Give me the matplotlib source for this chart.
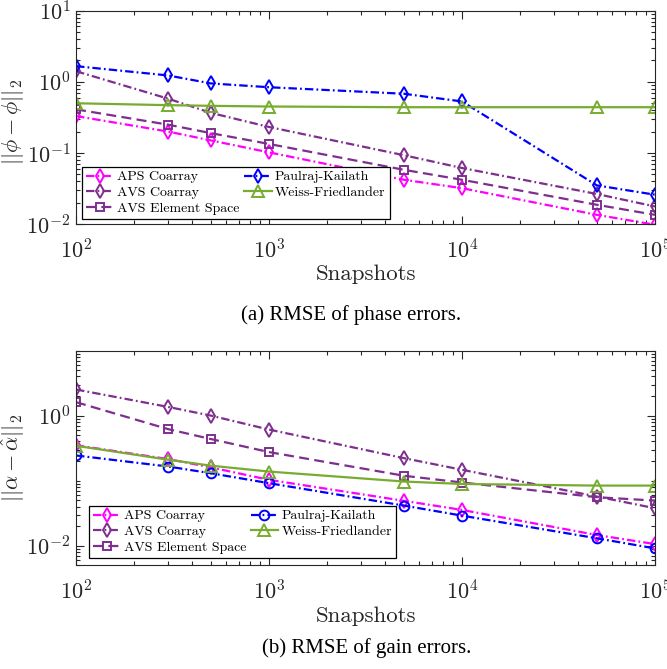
import matplotlib
matplotlib.use('Agg')
import matplotlib.pyplot as plt
from matplotlib.ticker import LogLocator, NullFormatter

plt.rcParams['font.family'] = 'cmr10'
plt.rcParams['mathtext.fontset'] = 'cm'
plt.rcParams['axes.formatter.use_mathtext'] = True

# snapshot counts shared by both panels
snapshots = [100, 300, 500, 1000, 5000, 10000, 50000, 100000]

# (a) phase error RMSE
phase_aps = [0.33, 0.20, 0.15, 0.102, 0.042, 0.032, 0.0135, 0.0098]
phase_avs = [1.41, 0.58, 0.366, 0.232, 0.093, 0.0615, 0.0265, 0.0177]
phase_avs_es = [0.41, 0.25, 0.19, 0.134, 0.058, 0.042, 0.0187, 0.0135]
phase_pk = [1.66, 1.23, 0.95, 0.84, 0.68, 0.53, 0.035, 0.0259]
phase_wf = [0.50, 0.47, 0.46, 0.45, 0.44, 0.44, 0.44, 0.44]

# (b) gain error RMSE
gain_aps = [0.35, 0.215, 0.16, 0.103, 0.049, 0.0355, 0.0146, 0.0106]
gain_avs = [2.52, 1.36, 1.0, 0.61, 0.222, 0.147, 0.057, 0.0377]
gain_avs_es = [1.61, 0.62, 0.436, 0.275, 0.119, 0.0937, 0.0557, 0.0494]
gain_pk = [0.244, 0.165, 0.13, 0.0915, 0.0414, 0.029, 0.013, 0.0091]
gain_wf = [0.344, 0.21, 0.17, 0.138, 0.097, 0.089, 0.084, 0.084]

labels = ['APS Coarray', 'AVS Coarray', 'AVS Element Space',
          'Paulraj-Kailath', 'Weiss-Friedlander']

magenta = '#FF00FF'
purple = '#7E2F8E'
blue = '#0000FF'
green = '#77AC30'
axcol = '#262626'

dashdot = (3.8, 1.4, 0.8, 1.4)
dashed = (4.5, 2.4)


def draw(ax, aps, avs, avs_es, pk, wf, pk_marker):
    kw = dict(lw=1.6, mfc='none', mew=1.4)
    ax.plot(snapshots, aps, color=magenta, dashes=dashdot, marker='d', ms=7.5, label=labels[0], **kw)
    ax.plot(snapshots, avs, color=purple, dashes=dashdot, marker='d', ms=7.5, label=labels[1], **kw)
    ax.plot(snapshots, avs_es, color=purple, dashes=dashed, marker='s', ms=5.5, label=labels[2], **kw)
    ax.plot(snapshots, pk, color=blue, dashes=dashdot, marker=pk_marker,
            ms=7.5 if pk_marker == 'd' else 7, label=labels[3], **kw)
    ax.plot(snapshots, wf, '-', color=green, marker='^', ms=8, label=labels[4], **kw)
    ax.set_xscale('log')
    ax.set_yscale('log')
    ax.set_xlim(1e2, 1e5)
    ax.tick_params(which='both', direction='in', top=True, right=True,
                   labelsize=16, colors=axcol, width=0.8)
    ax.tick_params(which='major', length=6)
    ax.tick_params(which='minor', length=3)
    ax.tick_params(axis='x', which='major', pad=10)
    ax.tick_params(axis='y', which='major', pad=4)
    ax.xaxis.set_minor_locator(LogLocator(base=10, subs=range(2, 10), numticks=20))
    ax.xaxis.set_minor_formatter(NullFormatter())
    ax.yaxis.set_minor_locator(LogLocator(base=10, subs=range(2, 10), numticks=20))
    ax.yaxis.set_minor_formatter(NullFormatter())
    for s in ax.spines.values():
        s.set_color(axcol)
        s.set_linewidth(0.8)
    ax.set_xlabel('Snapshots', fontsize=16.5, color=axcol, labelpad=2)


def legend(ax, anchor):
    leg = ax.legend(ncol=2, loc='lower left', bbox_to_anchor=anchor,
                    prop={'size': 10}, frameon=True, fancybox=False,
                    edgecolor='black', framealpha=1, borderpad=0.3, labelspacing=0.22,
                    handlelength=2.0, handletextpad=0.25, columnspacing=0.3,
                    borderaxespad=0)
    leg.get_frame().set_linewidth(0.9)


fig = plt.figure(figsize=(6.67, 6.69), dpi=100)

ax1 = fig.add_axes([0.114, 0.665, 0.868, 0.319])
draw(ax1, phase_aps, phase_avs, phase_avs_es, phase_pk, phase_wf, 'd')
ax1.set_ylim(1e-2, 1e1)
ax1.set_yticks([1e-2, 1e-1, 1e0, 1e1])
ax1.set_ylabel(r'$||\phi - \hat{\phi}||_2$', fontsize=16, color=axcol)
ax1.yaxis.set_label_coords(-0.084, 0.48)
legend(ax1, (0.01, 0.023))

ax2 = fig.add_axes([0.114, 0.155, 0.868, 0.321])
draw(ax2, gain_aps, gain_avs, gain_avs_es, gain_pk, gain_wf, 'o')
ax2.set_ylim(5e-3, 1e1)
ax2.set_yticks([1e-2, 1e0])
ax2.yaxis.set_minor_locator(LogLocator(base=10, subs=range(1, 10), numticks=20))
ax2.set_ylabel(r'$||\alpha - \hat{\alpha}||_2$', fontsize=16, color=axcol)
ax2.yaxis.set_label_coords(-0.084, 0.5)
legend(ax2, (0.0216, 0.033))

fig.text(0.527, 0.529, '(a) RMSE of phase errors.', ha='center', va='center',
         fontsize=15, family='Liberation Serif')
fig.text(0.55, 0.031, '(b) RMSE of gain errors.', ha='center', va='center',
         fontsize=15, family='Liberation Serif')

fig.savefig('out.png', dpi=100)
